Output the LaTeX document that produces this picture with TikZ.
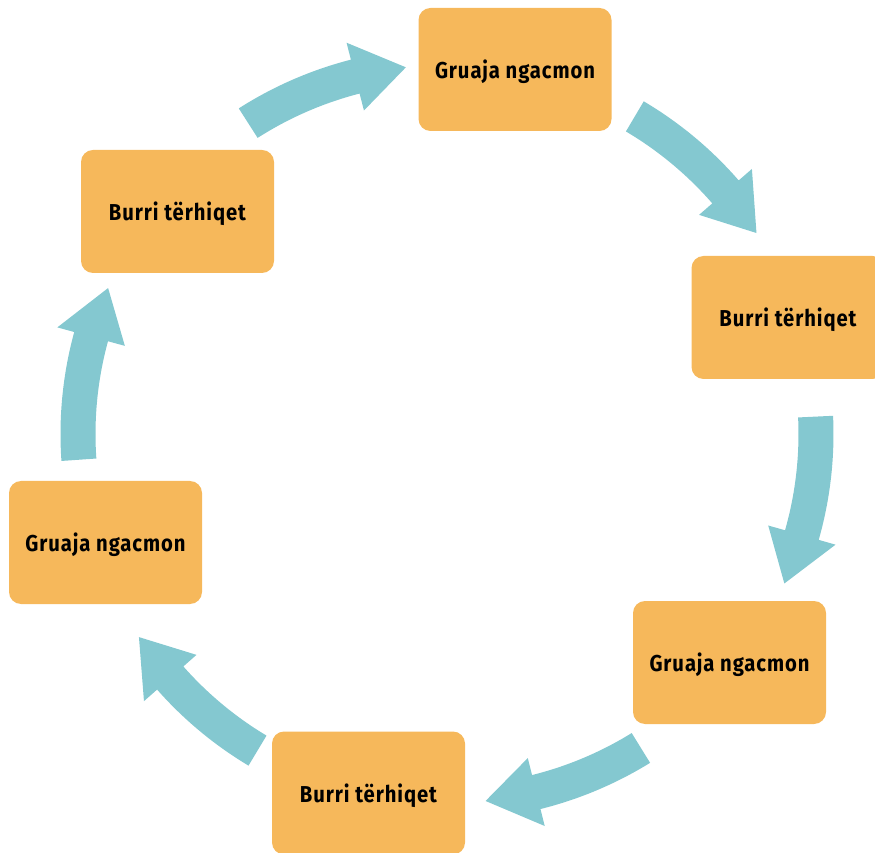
\documentclass[tikz,border=0pt]{standalone}
\usepackage{fontspec}
\setmainfont{Fira Sans}[FakeStretch=0.88, LetterSpace=4]
\usetikzlibrary{calc}
\definecolor{boxorange}{HTML}{F6B85B}
\definecolor{arrowteal}{HTML}{84C8D0}
\tikzset{
  stagebox/.style={fill=boxorange, rounded corners=12pt, minimum width=193pt,
    minimum height=123pt, inner sep=0pt, text depth=0pt,
    font=\fontsize{23}{27}\selectfont\bfseries, text=black},
  cyclefill/.style={fill=arrowteal},
}
% curved block arrow on the ring around (O): #1 tail angle, #2 tip angle
\newcommand\cycarrow[2]{%
  \pgfmathsetmacro\neckang{#2+8}%
  \fill[cyclefill] ($(O)+(#1:386.5)$)
    arc[start angle=#1, end angle=\neckang, radius=386.5]
    -- ($(O)+(\neckang:404)$) -- ($(O)+(#2:369)$) -- ($(O)+(\neckang:334)$)
    -- ($(O)+(\neckang:351.5)$)
    arc[start angle=\neckang, end angle=#1, radius=351.5] -- cycle;
}
\begin{document}
\begin{tikzpicture}[x=1pt,y=1pt]
\useasboundingbox (0,0) rectangle (875,852);
\coordinate (O) at (447,418);
% stages
\node[stagebox] (s1) at (515,782.5) {Gruaja ngacmon};
\node[stagebox] (s2) at (788,534.5) {Burri tërhiqet};
\node[stagebox] (s3) at (729.5,189.5) {Gruaja ngacmon};
\node[stagebox] (s4) at (368.5,59) {Burri tërhiqet};
\node[stagebox] (s5) at (105.5,309.5) {Gruaja ngacmon};
\node[stagebox] (s6) at (177.5,640.5) {Burri tërhiqet};
% arrows between consecutive stages
\cycarrow{122.6}{96.4}
\cycarrow{59.4}{33}
\cycarrow{2.7}{-23.9}
\cycarrow{-58.3}{-84}
\cycarrow{-120.9}{-146.6}
\cycarrow{184}{156.7}
\end{tikzpicture}
\end{document}
